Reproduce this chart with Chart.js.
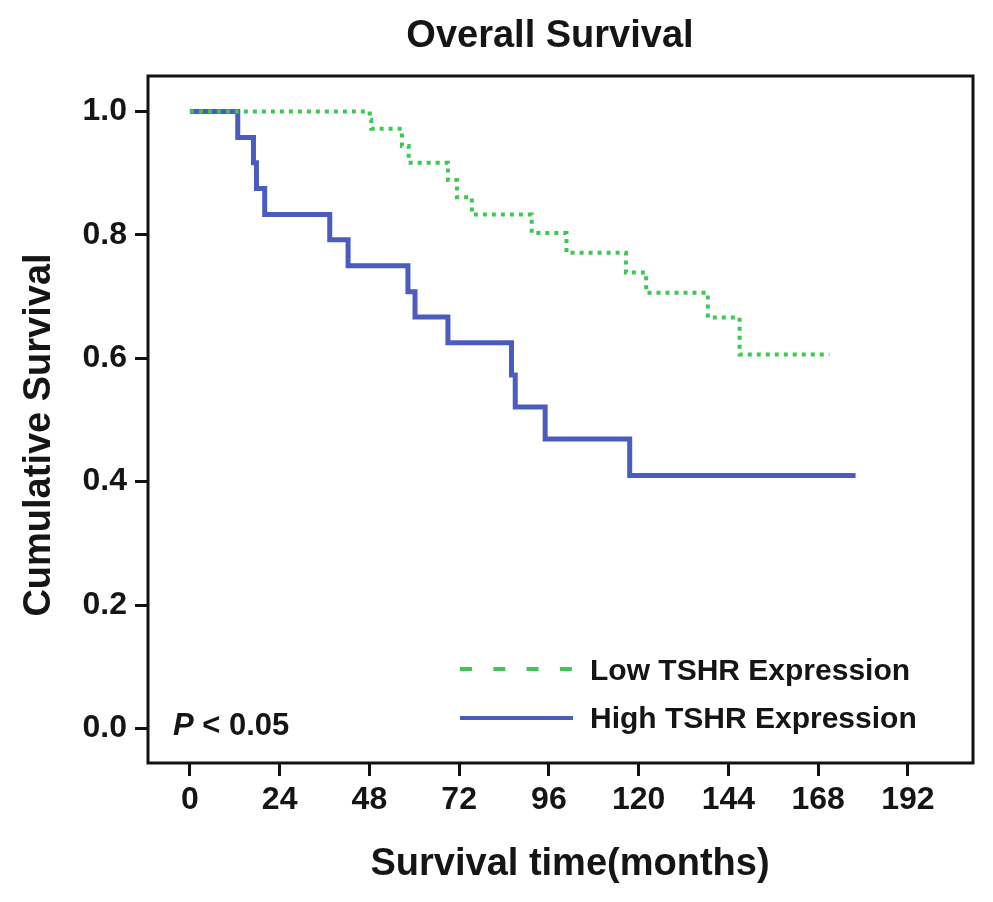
<!DOCTYPE html>
<html>
<head>
<meta charset="utf-8">
<script src="https://cdn.jsdelivr.net/npm/chart.js@4/dist/chart.umd.min.js"></script>
<style>
  html, body { margin: 0; padding: 0; background: #fff; }
  #wrap { width: 993px; height: 902px; }
</style>
</head>
<body>
<div id="wrap"><canvas id="kmChart" width="993" height="902"></canvas></div>
<script>
// Kaplan-Meier steps (months, cumulative survival)
const lowTimes = [0, 48.1, 48.5, 56.7, 58.5, 69, 71.4, 75.4, 91.4, 100.7, 116.6, 122, 138.5, 147, 171];
const lowSurv  = [1.0, 0.986, 0.972, 0.944, 0.917, 0.889, 0.861, 0.833, 0.803, 0.771, 0.739, 0.706, 0.666, 0.606, 0.606];

const highTimes = [0, 12.8, 17, 17.8, 20, 37.4, 42.3, 58.3, 60.2, 69, 86, 87, 95, 117.6, 178];
const highSurv  = [1.0, 0.958, 0.917, 0.875, 0.833, 0.792, 0.75, 0.708, 0.667, 0.625, 0.573, 0.521, 0.469, 0.41, 0.41];

const xTicks = [0, 24, 48, 72, 96, 120, 144, 168, 192];
const yTicks = [0.0, 0.2, 0.4, 0.6, 0.8, 1.0];

const seriesNames = ['Low TSHR Expression', 'High TSHR Expression'];
const lowColor = '#3cc852';
const highColor = '#4a5cc0';
const textColor = '#151515';
const FONT = '"Liberation Sans", Arial, sans-serif';

function toPoints(times, surv) {
    return times.map((t, i) => ({ x: t, y: surv[i] }));
}

// frame, titles, legend and p-value drawn on top of the chart
const decorPlugin = {
    id: 'decor',
    afterDraw(chart) {
        const ctx = chart.ctx;
        const a = chart.chartArea;
        ctx.save();

        ctx.strokeStyle = '#111';
        ctx.lineWidth = 3;
        ctx.strokeRect(a.left, a.top, a.right - a.left, a.bottom - a.top);

        ctx.fillStyle = textColor;
        ctx.textAlign = 'center';
        ctx.textBaseline = 'alphabetic';
        ctx.font = 'bold 38px ' + FONT;
        ctx.fillText('Overall Survival', 550, 47);
        ctx.fillText('Survival time(months)', 570, 875);

        ctx.save();
        ctx.translate(50, 435);
        ctx.rotate(-Math.PI / 2);
        ctx.fillText('Cumulative Survival', 0, 0);
        ctx.restore();

        // p-value
        ctx.textAlign = 'left';
        ctx.font = 'italic bold 31px ' + FONT;
        ctx.fillText('P', 173, 735);
        const pw = ctx.measureText('P').width;
        ctx.font = 'bold 31px ' + FONT;
        ctx.fillText(' < 0.05', 173 + pw, 735);

        // legend
        ctx.lineWidth = 4;
        ctx.strokeStyle = lowColor;
        ctx.setLineDash([12, 21.3]);
        ctx.beginPath();
        ctx.moveTo(460, 669);
        ctx.lineTo(573, 669);
        ctx.stroke();
        ctx.setLineDash([]);
        ctx.strokeStyle = highColor;
        ctx.beginPath();
        ctx.moveTo(460, 718);
        ctx.lineTo(573, 718);
        ctx.stroke();

        ctx.font = 'bold 30px ' + FONT;
        ctx.fillText('Low TSHR Expression', 590, 680);
        ctx.fillText('High TSHR Expression', 590, 728);

        ctx.restore();
    }
};

const ctx = document.getElementById('kmChart').getContext('2d');

new Chart(ctx, {
    type: 'line',
    data: {
        datasets: [
            {
                label: seriesNames[0],
                data: toPoints(lowTimes, lowSurv),
                borderColor: lowColor,
                borderWidth: 4,
                borderDash: [4, 5],
                stepped: 'before',
                pointRadius: 0,
                fill: false
            },
            {
                label: seriesNames[1],
                data: toPoints(highTimes, highSurv),
                borderColor: highColor,
                borderWidth: 5,
                stepped: 'before',
                pointRadius: 0,
                fill: false
            }
        ]
    },
    options: {
        responsive: false,
        animation: false,
        layout: { padding: { top: 76, right: 20, left: 0, bottom: 0 } },
        plugins: {
            legend: { display: false },
            title: { display: false },
            tooltip: { enabled: false }
        },
        scales: {
            x: {
                type: 'linear',
                min: -11.2,
                max: 209.4,
                afterBuildTicks: (scale) => { scale.ticks = xTicks.map(v => ({ value: v })); },
                afterFit: (scale) => { scale.height = 139; },
                grid: {
                    drawOnChartArea: false,
                    drawTicks: true,
                    tickLength: 13,
                    tickWidth: 3,
                    tickColor: '#111'
                },
                border: { display: false },
                ticks: {
                    autoSkip: false,
                    maxRotation: 0,
                    padding: 5,
                    color: textColor,
                    font: { family: FONT, size: 32, weight: 'bold' },
                    callback: (v) => String(v)
                }
            },
            y: {
                type: 'linear',
                min: -0.056,
                max: 1.0575,
                afterBuildTicks: (scale) => { scale.ticks = yTicks.map(v => ({ value: v })); },
                afterFit: (scale) => { scale.width = 148; },
                grid: {
                    drawOnChartArea: false,
                    drawTicks: true,
                    tickLength: 13,
                    tickWidth: 3,
                    tickColor: '#111'
                },
                border: { display: false },
                ticks: {
                    padding: 8,
                    color: textColor,
                    font: { family: FONT, size: 32, weight: 'bold' },
                    callback: (v) => Number(v).toFixed(1)
                }
            }
        }
    },
    plugins: [decorPlugin]
});
</script>
</body>
</html>
